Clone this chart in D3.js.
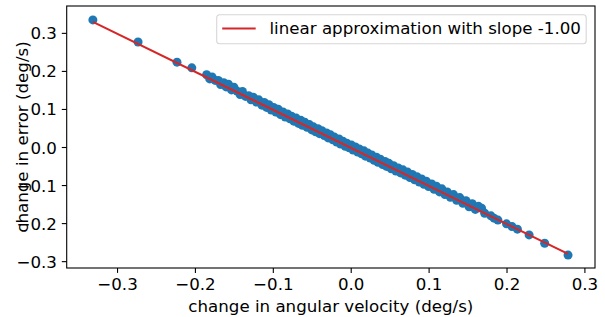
<!DOCTYPE html>
<html>
<head>
<meta charset="utf-8">
<script src="https://cdn.jsdelivr.net/npm/d3@7"></script>
<style>
  body { margin: 0; background: #fff; }
  text { font-family: "DejaVu Sans", sans-serif; }
</style>
</head>
<body>
<div id="chart"></div>
<script>
// scatter values: change in angular velocity vs change in error
const xValues = [
  -0.331, -0.273, -0.223, -0.204,
  -0.185, -0.181, -0.178, -0.174, -0.170, -0.167, -0.163, -0.160, -0.157, -0.153,
  -0.150, -0.146, -0.142, -0.139, -0.135, -0.131, -0.128, -0.125, -0.121, -0.118,
  -0.114, -0.111, -0.108, -0.105, -0.102, -0.099, -0.096, -0.093, -0.090, -0.087,
  -0.084, -0.081, -0.078, -0.076, -0.073, -0.070, -0.067, -0.064, -0.062, -0.059,
  -0.056, -0.053, -0.050, -0.048, -0.045, -0.042, -0.040, -0.037, -0.034, -0.031,
  -0.029, -0.026, -0.023, -0.021, -0.018, -0.015, -0.013, -0.010, -0.007, -0.005,
  -0.002, 0.001, 0.003, 0.006, 0.009, 0.011, 0.014, 0.017, 0.019, 0.022,
  0.025, 0.027, 0.030, 0.033, 0.035, 0.038, 0.041, 0.044, 0.046, 0.049,
  0.052, 0.055, 0.058, 0.061, 0.064, 0.067, 0.070, 0.073, 0.076, 0.079,
  0.082, 0.085, 0.088, 0.091, 0.094, 0.097, 0.100, 0.104, 0.107, 0.110,
  0.114, 0.117, 0.121, 0.124, 0.128, 0.132, 0.136, 0.140, 0.144, 0.148,
  0.152, 0.156, 0.160, 0.164,
  0.168, 0.172, 0.180, 0.184, 0.189, 0.200, 0.207, 0.214, 0.229, 0.249, 0.279
];
const yValues = [
  0.334, 0.276, 0.223, 0.208,
  0.190, 0.179, 0.184, 0.175, 0.175, 0.164, 0.169, 0.158, 0.165, 0.150,
  0.157, 0.147, 0.138, 0.146, 0.133, 0.135, 0.124, 0.131, 0.118, 0.124,
  0.110, 0.117, 0.104, 0.111, 0.097, 0.104, 0.092, 0.099, 0.085, 0.092,
  0.079, 0.087, 0.074, 0.081, 0.068, 0.076, 0.062, 0.070, 0.057, 0.065,
  0.052, 0.059, 0.045, 0.053, 0.040, 0.048, 0.035, 0.043, 0.030, 0.037,
  0.024, 0.032, 0.019, 0.026, 0.013, 0.021, 0.008, 0.015, 0.002, 0.010,
  -0.002, 0.005, -0.008, 0.000, -0.013, -0.005, -0.018, -0.010, -0.024, -0.016,
  -0.029, -0.021, -0.035, -0.027, -0.040, -0.032, -0.046, -0.038, -0.051, -0.043,
  -0.057, -0.049, -0.063, -0.055, -0.068, -0.060, -0.074, -0.066, -0.080, -0.072,
  -0.086, -0.078, -0.092, -0.084, -0.098, -0.090, -0.104, -0.097, -0.111, -0.103,
  -0.118, -0.110, -0.125, -0.118, -0.132, -0.125, -0.140, -0.133, -0.148, -0.141,
  -0.157, -0.149, -0.164, -0.156,
  -0.161, -0.174, -0.181, -0.187, -0.192, -0.202, -0.209, -0.216, -0.231, -0.253, -0.284
];
// fitted line ends (slope -1.00)
const fitX = [-0.331, 0.279];
const fitY = [0.329, -0.281];
const xTicks = [-0.3, -0.2, -0.1, 0.0, 0.1, 0.2, 0.3];
const yTicks = [-0.3, -0.2, -0.1, 0.0, 0.1, 0.2, 0.3];
const legendLabel = "linear approximation with slope -1.00";

const W = 605, H = 317;
const margin = {top: 6, right: 10, bottom: 49, left: 66.7};
const width = W - margin.left - margin.right,
      height = H - margin.top - margin.bottom;
const fs = "16.67px";

const svg = d3.select("#chart").append("svg")
    .attr("width", W)
    .attr("height", H);
const g = svg.append("g")
    .attr("transform", `translate(${margin.left},${margin.top})`);

const x = d3.scaleLinear().domain([-0.3646, 0.3136]).range([0, width]);
const y = d3.scaleLinear().domain([-0.318, 0.3706]).range([height, 0]);

const fmt = d3.format(".1f");

// x axis
const xAxis = g.append("g")
    .attr("transform", `translate(0,${height})`)
    .call(d3.axisBottom(x).tickValues(xTicks).tickFormat(fmt)
        .tickSize(4.9).tickSizeOuter(0).tickPadding(4.9));
// y axis
const yAxis = g.append("g")
    .call(d3.axisLeft(y).tickValues(yTicks).tickFormat(fmt)
        .tickSize(4.9).tickSizeOuter(0).tickPadding(4.9));

[xAxis, yAxis].forEach(a => {
    a.select(".domain").remove();
    a.selectAll(".tick line").attr("stroke", "#000").attr("stroke-width", 1.1);
    a.selectAll(".tick text").attr("fill", "#000").attr("font-size", fs)
        .style("font-family", "DejaVu Sans, sans-serif");
});
yAxis.selectAll(".tick text").attr("dy", "0.36em");
xAxis.selectAll(".tick text").attr("dy", "0.76em");

// points
const pts = d3.zip(xValues, yValues);
g.append("g").selectAll("circle")
    .data(pts)
    .enter()
    .append("circle")
    .attr("cx", d => x(d[0]))
    .attr("cy", d => y(d[1]))
    .attr("r", 4.5)
    .attr("fill", "#1f77b4");

// fitted line
g.append("path")
    .datum(d3.zip(fitX, fitY))
    .attr("d", d3.line().x(d => x(d[0])).y(d => y(d[1])))
    .attr("fill", "none")
    .attr("stroke", "#d62728")
    .attr("stroke-width", 2.08);

// frame
g.append("rect")
    .attr("width", width)
    .attr("height", height)
    .attr("fill", "none")
    .attr("stroke", "#000")
    .attr("stroke-width", 1.1);

// legend
const leg = svg.append("g").attr("transform", "translate(216.7,14.7)");
leg.append("rect")
    .attr("width", 369.5)
    .attr("height", 29)
    .attr("rx", 3)
    .attr("fill", "#fff")
    .attr("fill-opacity", 0.8)
    .attr("stroke", "#d6d6d6")
    .attr("stroke-width", 1.1);
leg.append("line")
    .attr("x1", 5.5).attr("x2", 39)
    .attr("y1", 13.8).attr("y2", 13.8)
    .attr("stroke", "#d62728")
    .attr("stroke-width", 2.08);
leg.append("text")
    .attr("x", 52.8)
    .attr("y", 19.8)
    .attr("font-size", fs)
    .attr("fill", "#000")
    .text(legendLabel);

// axis labels
svg.append("text")
    .text("change in angular velocity (deg/s)")
    .attr("x", margin.left + width / 2)
    .attr("y", 311.5)
    .attr("text-anchor", "middle")
    .attr("font-size", fs)
    .attr("fill", "#000");
svg.append("text")
    .text("change in error (deg/s)")
    .attr("transform", `translate(28,${margin.top + height / 2}) rotate(-90)`)
    .attr("text-anchor", "middle")
    .attr("font-size", fs)
    .attr("fill", "#000");
</script>
</body>
</html>
